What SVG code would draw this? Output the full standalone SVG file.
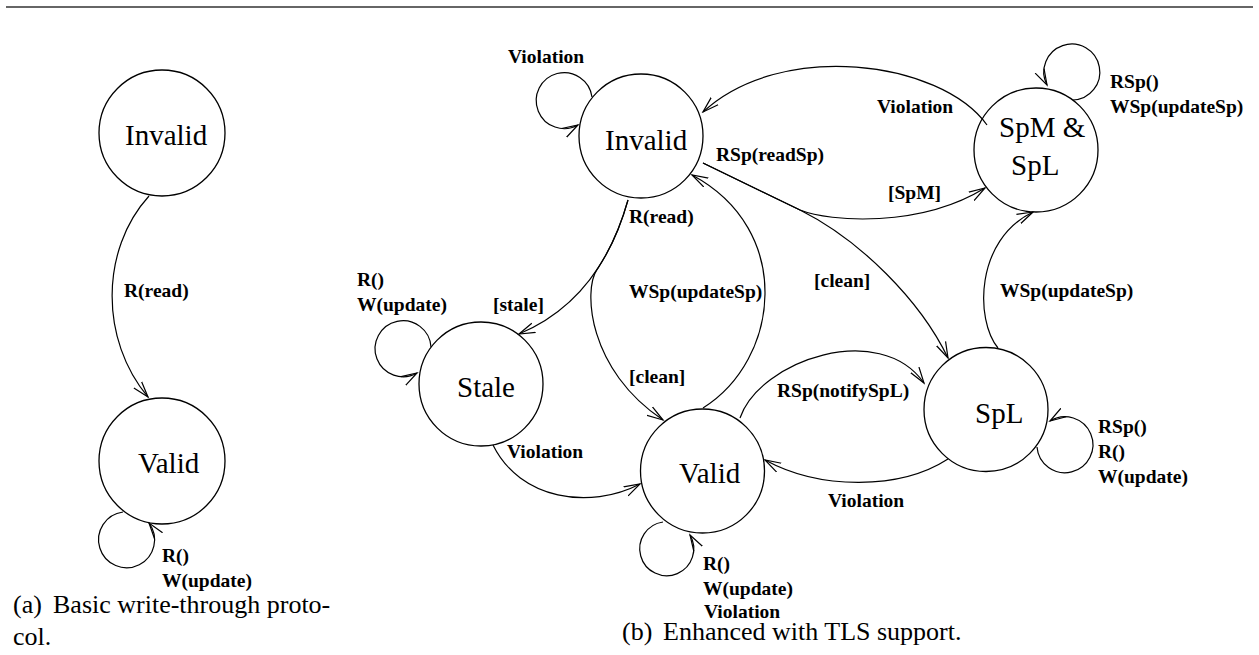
<svg xmlns="http://www.w3.org/2000/svg" width="1259" height="655" viewBox="0 0 1259 655">
  <style>
    text { font-family: 'Liberation Serif', 'DejaVu Serif', serif; fill: #000; }
    .st circle { fill: none; stroke: #000; stroke-width: 1.3; }
    .nl { font-size: 29px; }
    .el { font-size: 19.5px; font-weight: bold; }
    .cap { font-size: 26px; }
    #edges path { fill: none; stroke: #000; stroke-width: 1.2; marker-end: url(#arr); }
  </style>
  <defs>
    <marker id="arr" markerUnits="userSpaceOnUse" viewBox="0 0 18 12" markerWidth="18" markerHeight="12" refX="16" refY="6" orient="auto">
      <path d="M0,1 L16,6 L0,11" fill="none" stroke="#000" stroke-width="1.2"/>
    </marker>
  </defs>
  <rect width="1259" height="655" fill="#fff"/>
  <line x1="6" y1="7" x2="1253" y2="7" stroke="#333" stroke-width="1.4"/>

  <!-- (a) basic protocol -->
  <g id="a-invalid" class="st"><circle cx="162" cy="133" r="63"/><text class="nl" x="125" y="145">Invalid</text></g>
  <g id="a-valid" class="st"><circle cx="162" cy="461" r="63"/><text class="nl" x="138" y="473">Valid</text></g>

  <!-- (b) TLS-enhanced protocol -->
  <g id="b-invalid" class="st"><circle cx="641" cy="136" r="62"/><text class="nl" x="605" y="150">Invalid</text></g>
  <g id="b-stale" class="st"><circle cx="481" cy="384" r="62"/><text class="nl" x="457" y="397">Stale</text></g>
  <g id="b-valid" class="st"><circle cx="702.5" cy="471" r="62"/><text class="nl" x="679" y="483">Valid</text></g>
  <g id="b-spm" class="st"><circle cx="1036" cy="150" r="62"/><text class="nl" x="999" y="137">SpM &amp;</text><text class="nl" x="1011" y="175">SpL</text></g>
  <g id="b-spl" class="st"><circle cx="986" cy="409.5" r="62"/><text class="nl" x="975" y="423">SpL</text></g>

  <g id="edges">
    <!-- (a) -->
    <path d="M149,196 C100,250 100,340 148,397"/>
    <path d="M123,512 A28,28 0 1 0 149,523"/>
    <!-- (b) self loops -->
    <path d="M592,97 A28,28 0 1 0 578,125"/>
    <path d="M431,347 A28,28 0 1 0 417,373"/>
    <path d="M663,522 A27,27 0 1 0 690,535"/>
    <path d="M1073,100 A28,28 0 1 0 1047,85"/>
    <path d="M1037,447 A28,28 0 1 0 1050,421"/>
    <!-- (b) transitions -->
    <path d="M987,125 C940,60 780,40 703,112"/>
    <path d="M703,163 L800,210 C830,222 920,228 985,188"/>
    <path d="M703,163 L800,210 C860,240 920,300 948,358"/>
    <path d="M628,200 Q600,300 519,334"/>
    <path d="M628,200 Q616.8,240 597.1,269.4 C583,290 588,370 663,420"/>
    <path d="M703,408 C780,360 795,230 692,175"/>
    <path d="M493,445 C520,500 590,510 640,484"/>
    <path d="M740,418 C760,360 880,320 924,383"/>
    <path d="M948,459 C900,490 820,490 765,460"/>
    <path d="M998,348 C975,320 975,240 1033,212"/>
  </g>

  <g id="labels">
    <text class="el" x="124" y="297">R(read)</text>
    <text class="el" x="162" y="562">R()</text>
    <text class="el" x="162" y="587">W(update)</text>

    <text class="el" x="508" y="63">Violation</text>
    <text class="el" x="877" y="113">Violation</text>
    <text class="el" x="1110" y="88">RSp()</text>
    <text class="el" x="1110" y="113">WSp(updateSp)</text>
    <text class="el" x="716" y="161">RSp(readSp)</text>
    <text class="el" x="888" y="199">[SpM]</text>
    <text class="el" x="629" y="223">R(read)</text>
    <text class="el" x="357" y="286">R()</text>
    <text class="el" x="357" y="311">W(update)</text>
    <text class="el" x="493" y="311">[stale]</text>
    <text class="el" x="814" y="287">[clean]</text>
    <text class="el" x="629" y="298">WSp(updateSp)</text>
    <text class="el" x="1000" y="297">WSp(updateSp)</text>
    <text class="el" x="629" y="383">[clean]</text>
    <text class="el" x="777" y="397">RSp(notifySpL)</text>
    <text class="el" x="1098" y="433">RSp()</text>
    <text class="el" x="1098" y="458">R()</text>
    <text class="el" x="1098" y="483">W(update)</text>
    <text class="el" x="507" y="458">Violation</text>
    <text class="el" x="828" y="507">Violation</text>
    <text class="el" x="703" y="570">R()</text>
    <text class="el" x="703" y="595">W(update)</text>
    <text class="el" x="704" y="618">Violation</text>
  </g>

  <g id="captions">
    <text class="cap" x="13" y="613">(a)</text>
    <text class="cap" x="53" y="613">Basic write-through proto-</text>
    <text class="cap" x="13" y="645">col.</text>
    <text class="cap" x="622" y="640">(b)</text>
    <text class="cap" x="663" y="640">Enhanced with TLS support.</text>
  </g>
</svg>
